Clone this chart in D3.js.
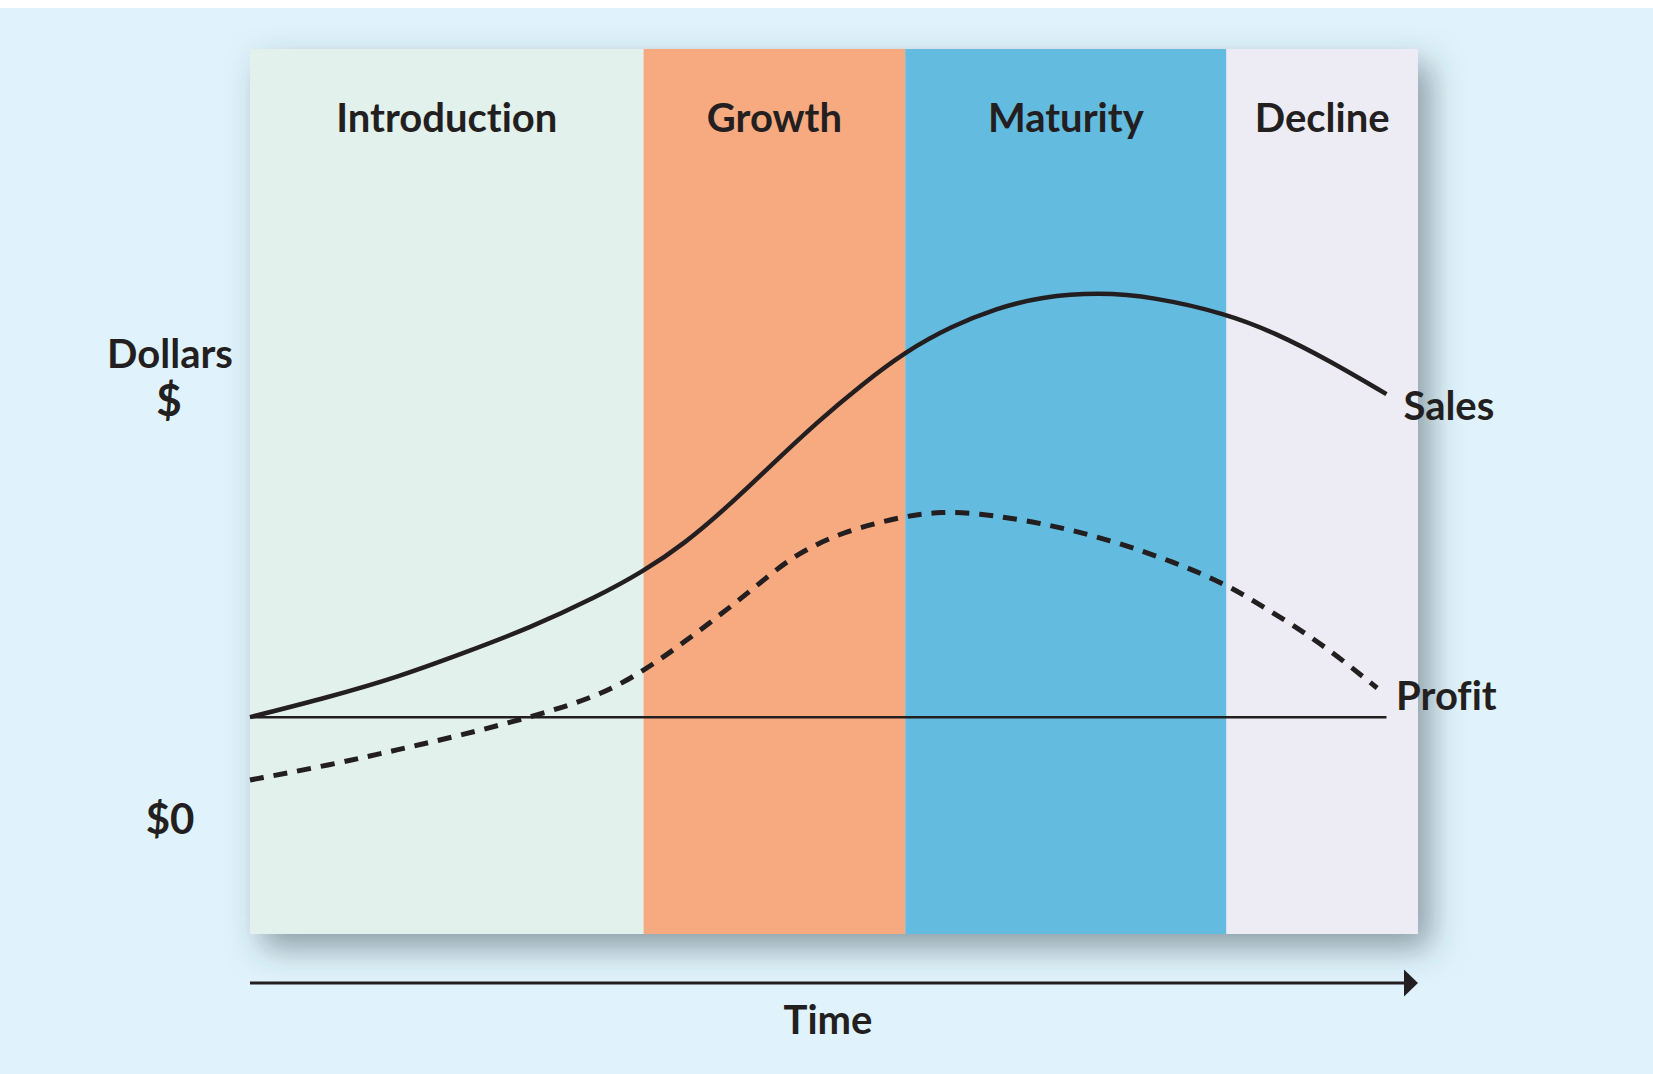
<!DOCTYPE html>
<html>
<head>
<meta charset="utf-8">
<script src="https://cdn.jsdelivr.net/npm/d3@7"></script>
<style>
  html, body { margin: 0; padding: 0; background: #fff; }
  svg text { font-family: Lato, "Open Sans", sans-serif; font-weight: 700; fill: #231f20; font-variant-ligatures: none; }
</style>
</head>
<body>
<div id="chart"></div>
<script>
// product life cycle stages (time in % of the life span)
var stageNames = ["Introduction", "Growth", "Maturity", "Decline"];
var stageStart = [0, 33.7, 56.1, 83.6];
var stageEnd = [33.7, 56.1, 83.6, 100];
var stageColors = ["#e2f1ec", "#f7a97f", "#64bbe0", "#edecf4"];

// curves: time -> dollars (0 = break-even line)
var salesTime = [0, 6.85, 12.6, 18.2, 24.0, 29.7, 33.6, 37.2, 41.0, 44.8, 48.6, 52.4, 56.1, 60.1, 63.9, 67.7, 72.7, 77.3, 83.6, 87.8, 92.4, 97.3];
var salesValue = [0, 2.3, 4.5, 7.2, 10.1, 13.6, 16.4, 19.6, 23.9, 28.7, 33.4, 37.6, 41.3, 44.2, 46.2, 47.5, 48.0, 47.5, 45.6, 43.4, 40.3, 36.5];

var profitTime = [0, 6.85, 12.6, 18.2, 24.0, 29.7, 33.6, 37.2, 41.0, 44.8, 46.7, 50.5, 56.2, 59.3, 62.0, 67.7, 73.5, 79.2, 83.6, 86.6, 91.5, 96.5];
var profitValue = [-7.1, -5.4, -3.7, -2.0, 0, 2.3, 5.1, 8.5, 12.3, 16.4, 18.3, 20.9, 22.8, 23.2, 23.1, 22.0, 20.1, 17.5, 15.0, 12.6, 8.6, 3.3];

var width = 1653, height = 1074;
var plot = { left: 250, right: 1418, top: 49, bottom: 934 };

var svg = d3.select("#chart").append("svg")
    .attr("width", width)
    .attr("height", height);

var defs = svg.append("defs");
var shadow = defs.append("filter")
    .attr("id", "shadow")
    .attr("x", "-10%").attr("y", "-10%")
    .attr("width", "125%").attr("height", "125%");
shadow.append("feDropShadow")
    .attr("dx", 12).attr("dy", 14)
    .attr("stdDeviation", 16)
    .attr("flood-color", "#34444f")
    .attr("flood-opacity", 0.5);

// page background
svg.append("rect")
    .attr("x", 0).attr("y", 8)
    .attr("width", width).attr("height", height - 8)
    .attr("fill", "#e0f3fc");

var x = d3.scaleLinear().domain([0, 100]).range([plot.left, plot.right]);
var y = d3.scaleLinear().domain([-24.5, 75.5]).range([plot.bottom, plot.top]);

// panel with shadow
svg.append("rect")
    .attr("x", plot.left).attr("y", plot.top)
    .attr("width", plot.right - plot.left)
    .attr("height", plot.bottom - plot.top)
    .attr("fill", "#e2f1ec")
    .attr("filter", "url(#shadow)");

var stages = stageNames.map(function(name, i) {
    return { name: name, start: stageStart[i], end: stageEnd[i], color: stageColors[i] };
});

svg.append("g").selectAll("rect")
    .data(stages)
    .enter().append("rect")
    .attr("x", function(d) { return x(d.start); })
    .attr("y", plot.top)
    .attr("width", function(d) { return x(d.end) - x(d.start); })
    .attr("height", plot.bottom - plot.top)
    .attr("fill", function(d) { return d.color; });

svg.append("g").selectAll("text")
    .data(stages)
    .enter().append("text")
    .attr("x", function(d) { return x((d.start + d.end) / 2); })
    .attr("y", 132)
    .attr("text-anchor", "middle")
    .style("font-size", "40px")
    .text(function(d) { return d.name; });

// break-even line
svg.append("line")
    .attr("x1", x(0)).attr("x2", x(97.3))
    .attr("y1", y(0)).attr("y2", y(0))
    .attr("stroke", "#231f20")
    .attr("stroke-width", 2.5);

var line = d3.line()
    .x(function(d) { return x(d[0]); })
    .y(function(d) { return y(d[1]); })
    .curve(d3.curveBasis);

var sales = d3.zip(salesTime, salesValue);
var profit = d3.zip(profitTime, profitValue);

svg.append("path")
    .datum(sales)
    .attr("d", line)
    .attr("fill", "none")
    .attr("stroke", "#231f20")
    .attr("stroke-width", 4.5);

svg.append("path")
    .datum(profit)
    .attr("d", line)
    .attr("fill", "none")
    .attr("stroke", "#231f20")
    .attr("stroke-width", 5)
    .attr("stroke-dasharray", "14,10");

// curve labels
var lastSales = sales[sales.length - 1];
svg.append("text")
    .attr("x", x(lastSales[0]) + 17)
    .attr("y", y(lastSales[1]) + 26)
    .style("font-size", "40px")
    .text("Sales");

var lastProfit = profit[profit.length - 1];
svg.append("text")
    .attr("x", x(lastProfit[0]) + 19)
    .attr("y", y(lastProfit[1]) + 22)
    .style("font-size", "40px")
    .text("Profit");

// y labels
svg.append("text")
    .attr("x", 170).attr("y", 368)
    .attr("text-anchor", "middle")
    .style("font-size", "40px")
    .text("Dollars");
svg.append("text")
    .attr("x", 169).attr("y", 416)
    .attr("text-anchor", "middle")
    .style("font-size", "44px")
    .text("$");
svg.append("text")
    .attr("x", 170).attr("y", 834)
    .attr("text-anchor", "middle")
    .style("font-size", "42px")
    .text("$0");

// time arrow
var arrowY = 983;
svg.append("line")
    .attr("x1", x(0)).attr("x2", x(100) - 12)
    .attr("y1", arrowY).attr("y2", arrowY)
    .attr("stroke", "#231f20")
    .attr("stroke-width", 3);
svg.append("path")
    .attr("d", "M" + (x(100) - 14) + "," + (arrowY - 13.5) + "L" + x(100) + "," + arrowY + "L" + (x(100) - 14) + "," + (arrowY + 13.5) + "Z")
    .attr("fill", "#231f20");

svg.append("text")
    .attr("x", 828).attr("y", 1034)
    .attr("text-anchor", "middle")
    .style("font-size", "40px")
    .text("Time");
</script>
</body>
</html>
